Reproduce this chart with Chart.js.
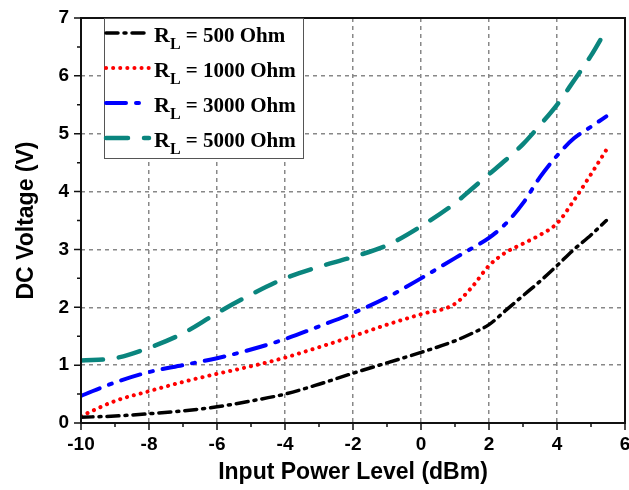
<!DOCTYPE html>
<html>
<head>
<meta charset="utf-8">
<script src="https://cdn.jsdelivr.net/npm/chart.js@4.4.0/dist/chart.umd.min.js"></script>
<style>
  html, body { margin: 0; padding: 0; background: #fff; }
  #wrap { width: 629px; height: 490px; }
</style>
</head>
<body>
<div id="wrap"><canvas id="dcchart" width="629" height="490"></canvas></div>
<script>
// 入力電力 (dBm)
const powerLevels = [-10, -9, -8, -7, -6, -5, -4, -3, -2, -1, 0, 1, 1.5, 2, 2.5, 3, 3.5, 4, 4.5, 5, 5.45];
// 各負荷抵抗での DC 電圧 (V)
const v500  = [0.1, 0.12, 0.16, 0.21, 0.28, 0.38, 0.5, 0.67, 0.86, 1.04, 1.22, 1.42, 1.55, 1.7, 1.95, 2.2, 2.45, 2.72, 3.0, 3.25, 3.5];
const v1000 = [0.12, 0.38, 0.55, 0.71, 0.85, 0.98, 1.13, 1.31, 1.5, 1.7, 1.88, 2.06, 2.35, 2.72, 2.95, 3.1, 3.25, 3.45, 3.85, 4.3, 4.72];
const v3000 = [0.47, 0.7, 0.88, 1.0, 1.12, 1.27, 1.45, 1.67, 1.9, 2.17, 2.5, 2.85, 3.02, 3.2, 3.45, 3.8, 4.25, 4.62, 4.92, 5.12, 5.3];
const v5000 = [1.08, 1.12, 1.3, 1.55, 1.9, 2.22, 2.5, 2.7, 2.87, 3.07, 3.4, 3.8, 4.05, 4.3, 4.55, 4.82, 5.15, 5.5, 5.92, 6.35, 6.8];
const loadNames = ["500", "1000", "3000", "5000"];
const xTicks = [-10, -8, -6, -4, -2, 0, 2, 4, 6];
const yTicks = [0, 1, 2, 3, 4, 5, 6, 7];

const styles = [
  { color: "#000000", dash: [12, 6, 2, 6], width: 3.5 },
  { color: "#ff0000", dash: [0.1, 7], width: 4 },
  { color: "#0000ff", dash: [20, 10, 3, 10], width: 4 },
  { color: "#0a857e", dash: [22, 16], width: 4.5 },
];

function toPoints(vals) {
  return powerLevels.map((x, i) => ({ x: x, y: vals[i] }));
}

// 枠と目盛り線
const framePlugin = {
  id: "frame",
  afterDatasetsDraw(chart) {
    const { ctx, chartArea: a, scales } = chart;
    ctx.save();
    ctx.strokeStyle = "#111";
    ctx.lineWidth = 2;
    ctx.strokeRect(a.left, a.top, a.right - a.left, a.bottom - a.top);
    ctx.lineWidth = 1.5;
    ctx.beginPath();
    for (let v = -10; v <= 6; v += 1) {
      const px = scales.x.getPixelForValue(v);
      const len = v % 2 === 0 ? 7 : 4;
      ctx.moveTo(px, a.bottom);
      ctx.lineTo(px, a.bottom + len);
    }
    for (let v = 0; v <= 7; v += 0.5) {
      const py = scales.y.getPixelForValue(v);
      const len = Number.isInteger(v) ? 7 : 4;
      ctx.moveTo(a.left, py);
      ctx.lineTo(a.left - len, py);
    }
    ctx.stroke();
    ctx.restore();
  },
};

// 凡例 (R_L の下付き文字つき)
const legendPlugin = {
  id: "rlLegend",
  afterDatasetsDraw(chart) {
    const { ctx, chartArea: a } = chart;
    const left = a.left + 23, top = a.top, w = 199, h = 140;
    ctx.save();
    ctx.fillStyle = "#fff";
    ctx.fillRect(left, top, w, h);
    ctx.strokeStyle = "#555";
    ctx.lineWidth = 1;
    ctx.strokeRect(left + 0.5, top + 0.5, w, h);
    loadNames.forEach((name, i) => {
      const y = top + 15 + i * 35;
      const s = styles[i];
      ctx.strokeStyle = s.color;
      ctx.lineWidth = s.width;
      ctx.lineCap = "round";
      ctx.setLineDash(s.dash);
      ctx.beginPath();
      ctx.moveTo(left + 2, y);
      ctx.lineTo(left + 45, y);
      ctx.stroke();
      ctx.setLineDash([]);
      ctx.fillStyle = "#000";
      ctx.textBaseline = "alphabetic";
      ctx.font = "bold 22px 'Liberation Serif'";
      let tx = left + 50;
      ctx.fillText("R", tx, y + 9);
      tx += ctx.measureText("R").width;
      ctx.font = "bold 16px 'Liberation Serif'";
      ctx.fillText("L", tx, y + 16);
      tx += ctx.measureText("L").width;
      ctx.font = "bold 21px 'Liberation Serif'";
      ctx.fillText(" = " + name + " Ohm", tx, y + 9);
    });
    ctx.restore();
  },
};

const tickFont = { family: "'Liberation Sans'", size: 19, weight: "bold" };
const titleFont = { family: "'Liberation Sans'", size: 23, weight: "bold" };

const config = {
  type: "line",
  data: {
    datasets: loadNames.map((name, i) => ({
      label: "RL = " + name + " Ohm",
      data: toPoints([v500, v1000, v3000, v5000][i]),
      borderColor: styles[i].color,
      borderWidth: styles[i].width,
      borderDash: styles[i].dash,
      borderCapStyle: "round",
      pointRadius: 0,
      cubicInterpolationMode: "monotone",
      fill: false,
    })),
  },
  options: {
    responsive: false,
    animation: false,
    layout: { padding: { top: 18, right: 4, left: 0, bottom: 0 } },
    plugins: { legend: { display: false }, tooltip: { enabled: false } },
    scales: {
      x: {
        type: "linear",
        min: -10,
        max: 6,
        afterBuildTicks: (s) => { s.ticks = xTicks.map((v) => ({ value: v })); },
        afterFit: (s) => { s.height = 67; s.paddingLeft = 0; s.paddingRight = 0; },
        grid: { color: "#888", lineWidth: 1.5, drawTicks: false },
        border: { display: false, dash: [4, 4] },
        ticks: { color: "#000", font: tickFont, padding: 10 },
        title: {
          display: true,
          text: "Input Power Level (dBm)",
          color: "#000",
          font: titleFont,
          padding: { top: 4 },
        },
      },
      y: {
        min: 0,
        max: 7,
        afterBuildTicks: (s) => { s.ticks = yTicks.map((v) => ({ value: v })); },
        afterFit: (s) => { s.width = 81; s.paddingTop = 0; s.paddingBottom = 0; },
        grid: { color: "#888", lineWidth: 1.5, drawTicks: false },
        border: { display: false, dash: [4, 4] },
        ticks: { color: "#000", font: tickFont, padding: 12 },
        title: {
          display: true,
          text: "DC Voltage (V)",
          color: "#000",
          font: titleFont,
          padding: { top: 13, bottom: 2 },
        },
      },
    },
  },
  plugins: [framePlugin, legendPlugin],
};

new Chart(document.getElementById("dcchart").getContext("2d"), config);
</script>
</body>
</html>
